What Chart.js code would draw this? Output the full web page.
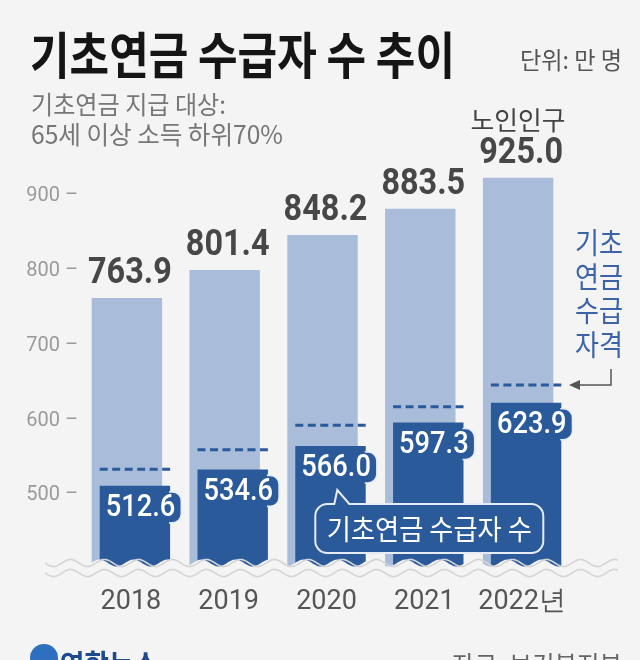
<!DOCTYPE html>
<html>
<head>
<meta charset="utf-8">
<script src="https://cdn.jsdelivr.net/npm/chart.js@4.4.1/dist/chart.umd.min.js"></script>
<style>
  body { margin: 0; background: #f4f4f4; }
  #wrap { width: 640px; height: 660px; }
</style>
</head>
<body>
<div id="wrap"><canvas id="myChart" width="640" height="660"></canvas></div>
<script>
// data, 단위: 만 명
var years = ['2018', '2019', '2020', '2021', '2022년'];
var elderly = [763.9, 801.4, 848.2, 883.5, 925.0];      // 노인인구
var recipients = [512.6, 534.6, 566.0, 597.3, 623.9];   // 기초연금 수급자 수
var eligible = [534.7, 561.0, 593.7, 618.5, 647.5];     // 기초연금 수급 자격 (dashed)
var yTicks = [500, 600, 700, 800, 900];

var BG = '#f4f4f4';
var LIGHT = '#a9bddb';
var DARK = '#2b5a9b';
var SHIFT = 8;
var KR = '"Noto Sans CJK KR"';

function txt(ctx, s, x, y, font, color, align, sx) {
  ctx.save();
  ctx.font = font;
  ctx.fillStyle = color;
  ctx.textAlign = align || 'left';
  ctx.textBaseline = 'middle';
  ctx.translate(x, y);
  ctx.scale(sx || 1, 1);
  ctx.fillText(s, 0, 0);
  ctx.restore();
}
// squeeze text to a given width
function fitTxt(ctx, s, x, y, font, color, align, w) {
  ctx.save();
  ctx.font = font;
  var sx = w / ctx.measureText(s).width;
  ctx.restore();
  txt(ctx, s, x, y, font, color, align, sx);
}
function rrect(ctx, x, y, w, h, r) {
  ctx.beginPath();
  ctx.moveTo(x + r, y);
  ctx.arcTo(x + w, y, x + w, y + h, r);
  ctx.arcTo(x + w, y + h, x, y + h, r);
  ctx.arcTo(x, y + h, x, y, r);
  ctx.arcTo(x, y, x + w, y, r);
  ctx.closePath();
}
function wave(ctx, x0, x1, y, amp, wl) {
  ctx.moveTo(x0, y);
  for (var x = x0; x <= x1; x += 1) {
    ctx.lineTo(x, y + amp * Math.sin((x - x0) / wl * Math.PI * 2));
  }
}

var deco = {
  id: 'deco',
  beforeDraw: function(c) {
    var ctx = c.ctx;
    ctx.save();
    ctx.fillStyle = BG;
    ctx.fillRect(0, 0, c.width, c.height);
    ctx.restore();
  },
  beforeDatasetDraw: function(c, args) {
    if (args.index === 1) { c.ctx.save(); c.ctx.translate(SHIFT, 0); }
  },
  afterDatasetDraw: function(c, args) {
    if (args.index === 1) c.ctx.restore();
  },
  afterDatasetsDraw: function(c) {
    var ctx = c.ctx, y = c.scales.y;
    var m0 = c.getDatasetMeta(0).data, m1 = c.getDatasetMeta(1).data;

    // dashed eligibility lines
    ctx.save();
    ctx.strokeStyle = DARK;
    ctx.lineWidth = 3;
    ctx.setLineDash([8, 4.5]);
    m1.forEach(function(b, i) {
      var py = y.getPixelForValue(eligible[i]);
      ctx.beginPath();
      ctx.moveTo(b.x - b.width / 2 + SHIFT, py);
      ctx.lineTo(b.x + b.width / 2 + SHIFT, py);
      ctx.stroke();
    });
    ctx.restore();

    // wavy break at the bottom
    var wy = c.chartArea.bottom - 7;
    ctx.save();
    ctx.beginPath();
    wave(ctx, 40, 625, wy, 3.5, 34);
    ctx.lineTo(625, wy + 16);
    ctx.lineTo(40, wy + 16);
    ctx.closePath();
    ctx.fillStyle = BG;
    ctx.fill();
    ctx.strokeStyle = '#d4d4d4';
    ctx.lineWidth = 1.6;
    ctx.beginPath();
    wave(ctx, 45, 618, wy, 3.5, 34);
    ctx.stroke();
    ctx.beginPath();
    wave(ctx, 45, 618, wy + 10, 3.5, 34);
    ctx.stroke();
    ctx.restore();

    // elderly labels
    m0.forEach(function(b, i) {
      txt(ctx, elderly[i].toFixed(1), b.x + 3, b.y - 24, 'bold 36px Roboto', '#474747', 'center', 0.9);
    });
    fitTxt(ctx, '노인인구', m0[4].x, 120, '26px ' + KR, '#444', 'center', 95);

    // recipient labels in boxes
    m1.forEach(function(b, i) {
      var s = recipients[i].toFixed(1);
      var left = b.x - b.width / 2 + SHIFT;
      var right = left + b.width;
      ctx.save();
      ctx.font = '500 31px Roboto';
      var tw = ctx.measureText(s).width * 0.88;
      ctx.restore();
      var bx = left + 1, by = b.y + 6, bw = tw + 11, bh = 31;
      ctx.save();
      ctx.fillStyle = DARK;
      rrect(ctx, bx, by, bw, bh, 9);
      ctx.fill();
      ctx.beginPath();
      ctx.rect(right - 1, by - 4, 40, bh + 8);
      ctx.clip();
      ctx.strokeStyle = '#e6ecf5';
      ctx.lineWidth = 1.6;
      rrect(ctx, bx, by, bw, bh, 9);
      ctx.stroke();
      ctx.restore();
      txt(ctx, s, bx + 5, by + bh / 2 + 1, '500 31px Roboto', '#fff', 'left', 0.88);
    });

    // callout bubble
    var b2 = m1[2];
    var cx0 = b2.x - b2.width / 2 + SHIFT + 20, cy0 = 504, cw = 228, ch = 49;
    ctx.save();
    ctx.fillStyle = DARK;
    ctx.strokeStyle = '#e6ecf5';
    ctx.lineWidth = 2;
    ctx.beginPath();
    var r = 12;
    ctx.moveTo(cx0 + r, cy0);
    ctx.lineTo(cx0 + 19, cy0);
    ctx.lineTo(cx0 + 22, cy0 - 14);
    ctx.lineTo(cx0 + 34, cy0);
    ctx.arcTo(cx0 + cw, cy0, cx0 + cw, cy0 + ch, r);
    ctx.arcTo(cx0 + cw, cy0 + ch, cx0, cy0 + ch, r);
    ctx.arcTo(cx0, cy0 + ch, cx0, cy0, r);
    ctx.arcTo(cx0, cy0, cx0 + cw, cy0, r);
    ctx.closePath();
    ctx.fill();
    ctx.stroke();
    ctx.restore();
    fitTxt(ctx, '기초연금 수급자 수', cx0 + cw / 2, cy0 + ch / 2 + 1, '28px ' + KR, '#fff', 'center', 205);

    // 기초연금 수급 자격 note
    var lines = ['기초', '연금', '수급', '자격'];
    lines.forEach(function(s, i) {
      fitTxt(ctx, s, 599, 243 + i * 34, '29px ' + KR, '#3a63a8', 'center', 48);
    });
    var ay = y.getPixelForValue(eligible[4]);
    ctx.save();
    ctx.strokeStyle = '#555';
    ctx.fillStyle = '#555';
    ctx.lineWidth = 1.5;
    ctx.beginPath();
    ctx.moveTo(611, ay - 16);
    ctx.lineTo(611, ay);
    ctx.lineTo(578, ay);
    ctx.stroke();
    ctx.beginPath();
    ctx.moveTo(569, ay);
    ctx.lineTo(580, ay - 5);
    ctx.lineTo(580, ay + 5);
    ctx.closePath();
    ctx.fill();
    ctx.restore();

    // headings
    fitTxt(ctx, '기초연금 수급자 수 추이', 30, 55, 'bold 50px ' + KR, '#151515', 'left', 425);
    fitTxt(ctx, '단위: 만 명', 622, 60, '24px ' + KR, '#555', 'right', 102);
    fitTxt(ctx, '기초연금 지급 대상:', 31, 104, '25px ' + KR, '#777', 'left', 195);
    fitTxt(ctx, '65세 이상 소득 하위70%', 31, 134, '25px ' + KR, '#777', 'left', 252);

    // footer
    ctx.save();
    ctx.fillStyle = '#2f6fc0';
    ctx.beginPath();
    ctx.arc(44, 658, 14, 0, Math.PI * 2);
    ctx.fill();
    ctx.restore();
    txt(ctx, '연합뉴스', 60, 664, 'bold 28px ' + KR, '#1f4b8e', 'left', 0.95);
    fitTxt(ctx, '자료: 보건복지부', 622, 664, '25px ' + KR, '#666', 'right', 170);
  }
};

new Chart('myChart', {
  type: 'bar',
  data: {
    labels: years,
    datasets: [{
      label: '노인인구',
      data: elderly,
      backgroundColor: LIGHT,
      order: 1
    }, {
      label: '기초연금 수급자 수',
      data: recipients,
      backgroundColor: DARK,
      order: 0
    }]
  },
  options: {
    responsive: false,
    animation: false,
    events: [],
    layout: { padding: { top: 159, right: 73, left: 0, bottom: 0 } },
    datasets: { bar: { grouped: false, categoryPercentage: 1, barPercentage: 0.72, borderWidth: 0 } },
    plugins: { legend: { display: false }, tooltip: { enabled: false } },
    scales: {
      x: {
        grid: { display: false, drawTicks: false },
        border: { display: false },
        afterFit: function(s) { s.height = 90; },
        ticks: { color: '#555', font: { family: 'Roboto', size: 27 }, padding: 16, labelOffset: 4 }
      },
      y: {
        min: 400,
        max: 950,
        grid: { display: false, drawTicks: false },
        border: { display: false },
        afterFit: function(s) { s.width = 78; },
        afterBuildTicks: function(s) {
          s.ticks = yTicks.map(function(v) { return { value: v }; });
        },
        ticks: {
          color: '#9a9a9a',
          padding: 0,
          font: { family: 'Roboto', size: 20 },
          callback: function(v) { return v + ' –'; }
        }
      }
    }
  },
  plugins: [deco]
});
</script>
</body>
</html>
